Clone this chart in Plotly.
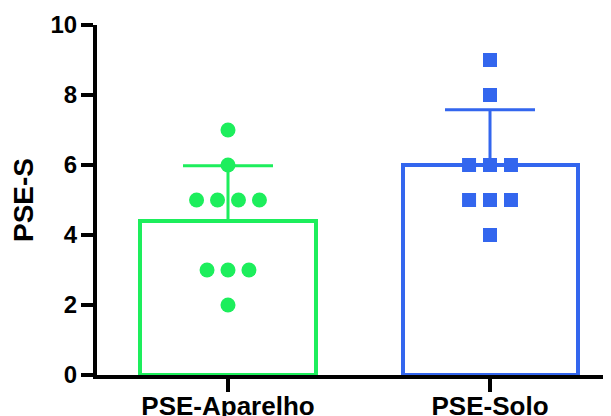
import plotly.graph_objects as go
import numpy as np

categories = ["PSE-Aparelho", "PSE-Solo"]
aparelho = [7, 6, 5, 5, 5, 5, 3, 3, 3, 2]
solo = [9, 8, 6, 6, 6, 5, 5, 5, 4]
y_ticks = [0, 2, 4, 6, 8, 10]

groups = [aparelho, solo]
colors = ["#1DEE5C", "#3366EE"]
symbols = ["circle", "square"]
sizes = [15, 14]
spacing = 0.08

fig = go.Figure()

for i, vals in enumerate(groups):
    arr = np.array(vals, dtype=float)
    mean = arr.mean()
    sd = arr.std(ddof=1)
    fig.add_trace(go.Bar(
        x=[i], y=[mean], width=0.668,
        marker=dict(color="white", line=dict(color=colors[i], width=4)),
        error_y=dict(type="data", array=[sd], arrayminus=[0], symmetric=False,
                     color=colors[i], thickness=3, width=45),
        showlegend=False, hoverinfo="skip",
    ))

for i, vals in enumerate(groups):
    xs, ys = [], []
    for v in sorted(set(vals), reverse=True):
        n = vals.count(v)
        for k in range(n):
            xs.append(i + (k - (n - 1) / 2) * spacing)
            ys.append(v)
    fig.add_trace(go.Scatter(
        x=xs, y=ys, mode="markers",
        marker=dict(symbol=symbols[i], size=sizes[i], color=colors[i], line=dict(width=0)),
        showlegend=False,
    ))

font = dict(family="Liberation Sans, Arial, sans-serif", color="black", weight="bold")

fig.update_layout(
    width=603, height=408,
    margin=dict(l=89, r=0, t=17, b=41),
    paper_bgcolor="white", plot_bgcolor="white",
    bargap=0,
    xaxis=dict(
        range=[-0.5, 1.4618], tickvals=[0, 1], ticktext=categories,
        showline=True, linecolor="black", linewidth=4,
        ticks="outside", ticklen=13, tickwidth=4, tickcolor="black",
        showgrid=False, zeroline=False, automargin=False,
        tickfont=dict(size=26, **font), ticklabelstandoff=-8,
    ),
    yaxis=dict(
        range=[0, 10], tickvals=y_ticks,
        showline=True, linecolor="black", linewidth=4,
        ticks="outside", ticklen=12, tickwidth=4, tickcolor="black",
        showgrid=False, zeroline=False, automargin=False,
        tickfont=dict(size=24, **font), ticklabelstandoff=-1,
        title=dict(text="PSE-S", font=dict(size=28, **font), standoff=18),
    ),
)

fig.write_html("out.html")
